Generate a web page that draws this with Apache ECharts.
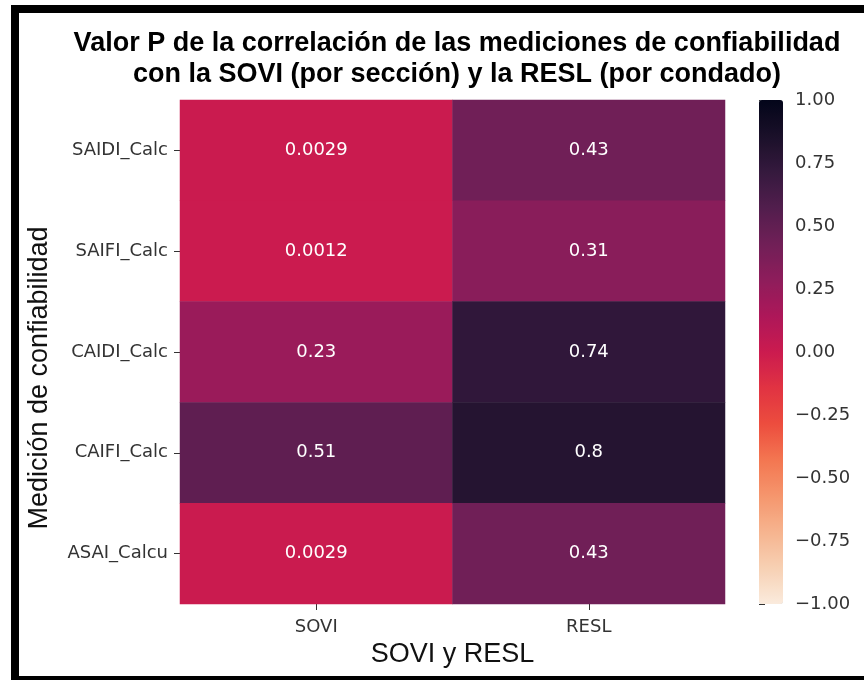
<!DOCTYPE html>
<html>
<head>
<meta charset="utf-8">
<script src="https://cdn.jsdelivr.net/npm/echarts@6/dist/echarts.min.js"></script>
<style>
  html, body { margin: 0; padding: 0; background: #ffffff; }
  #chart { width: 864px; height: 680px; }
</style>
</head>
<body>
<div id="chart"></div>
<script>
// Reliability measures (rows) and the two indices (columns)
const measures = ['SAIDI_Calc', 'SAIFI_Calc', 'CAIDI_Calc', 'CAIFI_Calc', 'ASAI_Calcu'];
const indices = ['SOVI', 'RESL'];
// P value of each correlation, one array per column
const sovi = [0.0029, 0.0012, 0.23, 0.51, 0.0029];
const resl = [0.43, 0.31, 0.74, 0.8, 0.43];

// reversed "rocket" palette, from -1 (light) to 1 (dark)
const rocketR = ['#faebdd', '#f7d0b3', '#f6b48f', '#f5966d', '#f37651', '#ec4d3e', '#e13342',
                 '#cb1b4f', '#ad1759', '#8e1d5b', '#701f57', '#521e4d', '#35193e', '#1a1029', '#03051a'];

const cells = [];
measures.forEach((m, i) => {
  cells.push([0, i, sovi[i]]);
  cells.push([1, i, resl[i]]);
});

const fmtTick = v => (v < 0 ? '\u2212' : '') + Math.abs(v).toFixed(2);

const chart = echarts.init(document.getElementById('chart'), null, { renderer: 'canvas' });
chart.setOption({
  backgroundColor: '#ffffff',
  animation: false,
  title: [{
    text: 'Valor P de la correlación de las mediciones de confiabilidad\ncon la SOVI (por sección) y la RESL (por condado)',
    left: 452, top: 23, textAlign: 'center',
    textStyle: { fontFamily: 'Liberation Sans', fontWeight: 'bold', fontSize: 27, lineHeight: 31, color: '#000' }
  }],
  grid: [
    { left: 180, top: 100, width: 545, height: 504 },
    { left: 759, top: 100, width: 24, height: 504 }
  ],
  xAxis: [{
    gridIndex: 0, type: 'category', data: indices,
    name: 'SOVI y RESL', nameLocation: 'middle', nameGap: 22,
    nameTextStyle: { fontFamily: 'Liberation Sans', fontSize: 27, color: '#111' },
    axisLine: { show: false },
    axisTick: { show: true, alignWithLabel: true, length: 6, lineStyle: { color: '#333' } },
    axisLabel: { fontFamily: 'DejaVu Sans', fontSize: 18, color: '#333', margin: 14 },
    splitLine: { show: false }
  }, {
    gridIndex: 1, type: 'value', show: false
  }],
  yAxis: [{
    gridIndex: 0, type: 'category', data: measures, inverse: true,
    axisLine: { show: false },
    axisTick: { show: true, alignWithLabel: true, length: 6, lineStyle: { color: '#333' } },
    axisLabel: { fontFamily: 'DejaVu Sans', fontSize: 18, color: '#333', margin: 12 },
    splitLine: { show: false }
  }, {
    gridIndex: 1, type: 'value', position: 'right', min: -1, max: 1, interval: 0.25,
    axisLine: { show: false },
    axisTick: { show: true, length: 6, lineStyle: { color: '#333' } },
    axisLabel: { fontFamily: 'DejaVu Sans', fontSize: 18, color: '#333', margin: 12,
      formatter: v => fmtTick(v) },
    splitLine: { show: false }
  }],
  visualMap: {
    type: 'continuous', min: -1, max: 1, seriesIndex: 0,
    left: 759, top: 100, itemWidth: 24, itemHeight: 504, padding: 0,
    calculable: false, text: ['', ''], showLabel: false, hoverLink: false,
    inRange: { color: rocketR }
  },
  series: [{
    type: 'heatmap', xAxisIndex: 0, yAxisIndex: 0, data: cells,
    label: { show: true, color: '#ffffff', fontFamily: 'DejaVu Sans', fontSize: 18,
      formatter: p => String(p.value[2]) },
    itemStyle: { borderWidth: 0 },
    emphasis: { disabled: true }
  }],
  graphic: [{
    // y-axis title
    type: 'text', silent: true, x: 40, y: 378, rotation: Math.PI / 2,
    style: { text: 'Medición de confiabilidad', fontFamily: 'Liberation Sans', fontSize: 27,
      fill: '#111', align: 'center', verticalAlign: 'middle' }
  }, {
    // outer frame
    type: 'rect', silent: true, z: 100,
    shape: { x: 15, y: 9, width: 880, height: 671 },
    style: { fill: 'none', stroke: '#000', lineWidth: 8 }
  }]
});
</script>
</body>
</html>
